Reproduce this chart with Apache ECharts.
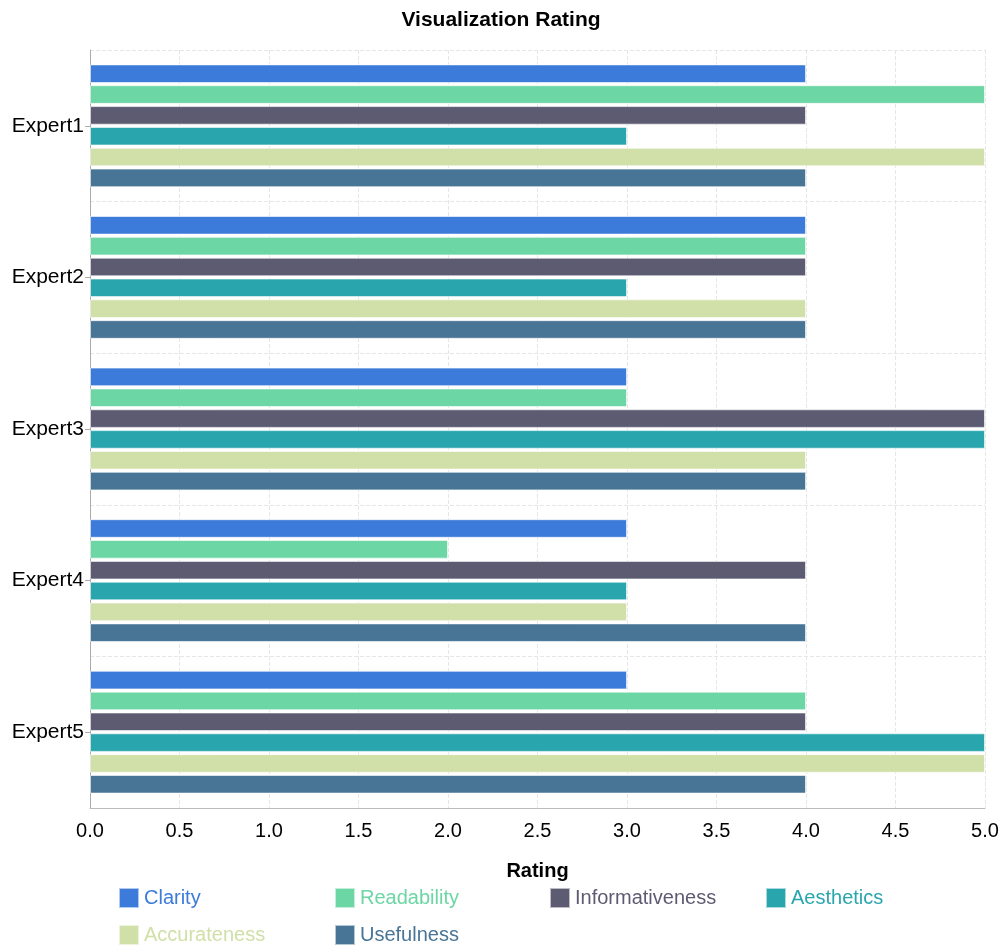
<!DOCTYPE html>
<html>
	<head>
		<meta charset="utf-8">
		<title>Visualization Rating</title>
		<script src="https://cdn.jsdelivr.net/npm/echarts@6/dist/echarts.min.js"></script>
	</head>
	<body style="margin:0;">
		<div id="main" style="width: 1002px; height: 946px;"></div>
		<script>
			var experts = ['Expert1', 'Expert2', 'Expert3', 'Expert4', 'Expert5'];
			var criteria = ['Clarity', 'Readability', 'Informativeness', 'Aesthetics', 'Accurateness', 'Usefulness'];
			var colors = ['#3c7bd9', '#6cd6a4', '#5d5b72', '#29a6ad', '#d0e0a8', '#487596'];
			// one array per criterion, in expert order
			var clarity = [4, 4, 3, 3, 3];
			var readability = [5, 4, 3, 2, 4];
			var informativeness = [4, 4, 5, 4, 4];
			var aesthetics = [3, 3, 5, 3, 5];
			var accurateness = [5, 4, 4, 3, 5];
			var usefulness = [4, 4, 4, 4, 4];
			var values = [clarity, readability, informativeness, aesthetics, accurateness, usefulness];

			var font = 'Liberation Sans, Arial, sans-serif';
			var series = criteria.map(function (name, i) {
				return {
					name: name,
					type: 'bar',
					data: values[i],
					barGap: '12%',
					barCategoryGap: '19%',
					itemStyle: {
						color: colors[i],
						borderColor: 'rgba(255,255,255,0.6)',
						borderWidth: 1
					}
				};
			});

			// legend laid out as a grid: 4 columns, 2 rows
			var legends = criteria.map(function (name, i) {
				return {
					data: [name],
					left: 118 + Math.round((i % 4) * 215.7),
					top: 887 + Math.floor(i / 4) * 37,
					padding: 0,
					itemWidth: 20,
					itemHeight: 20,
					itemGap: 5,
					icon: 'rect',
					textStyle: { color: colors[i], fontFamily: font, fontSize: 20 }
				};
			});

			var mychart = echarts.init(document.getElementById('main'));
			var option = {
				backgroundColor: '#fff',
				animation: false,
				title: {
					text: 'Visualization Rating',
					left: 'center',
					top: 5,
					textStyle: { fontFamily: font, fontSize: 21, fontWeight: 'bold', color: '#000' }
				},
				legend: legends,
				grid: { left: 90, right: 17, top: 50, bottom: 138, containLabel: false },
				xAxis: {
					type: 'value',
					min: 0,
					max: 5,
					interval: 0.5,
					name: 'Rating',
					nameLocation: 'middle',
					nameGap: 53,
					nameTextStyle: { fontFamily: font, fontSize: 20, fontWeight: 'bold', color: '#000' },
					axisLine: { show: true, lineStyle: { color: '#bbb' } },
					axisTick: { show: false },
					axisLabel: { fontFamily: font, fontSize: 20, color: '#000', margin: 13,
						formatter: function (v) { return v.toFixed(1); } },
					splitLine: { show: true, lineStyle: { color: '#e6e6e6', type: 'dashed' } }
				},
				yAxis: {
					type: 'category',
					data: experts,
					inverse: true,
					axisLine: { show: true, lineStyle: { color: '#aaa' } },
					axisTick: { show: true, alignWithLabel: true, length: 5, lineStyle: { color: '#aaa' } },
					axisLabel: { fontFamily: font, fontSize: 21, color: '#000', margin: 6 },
					splitLine: { show: true, lineStyle: { color: '#e6e6e6', type: 'dashed' } }
				},
				series: series
			};
			mychart.setOption(option);
		</script>
	</body>
</html>
